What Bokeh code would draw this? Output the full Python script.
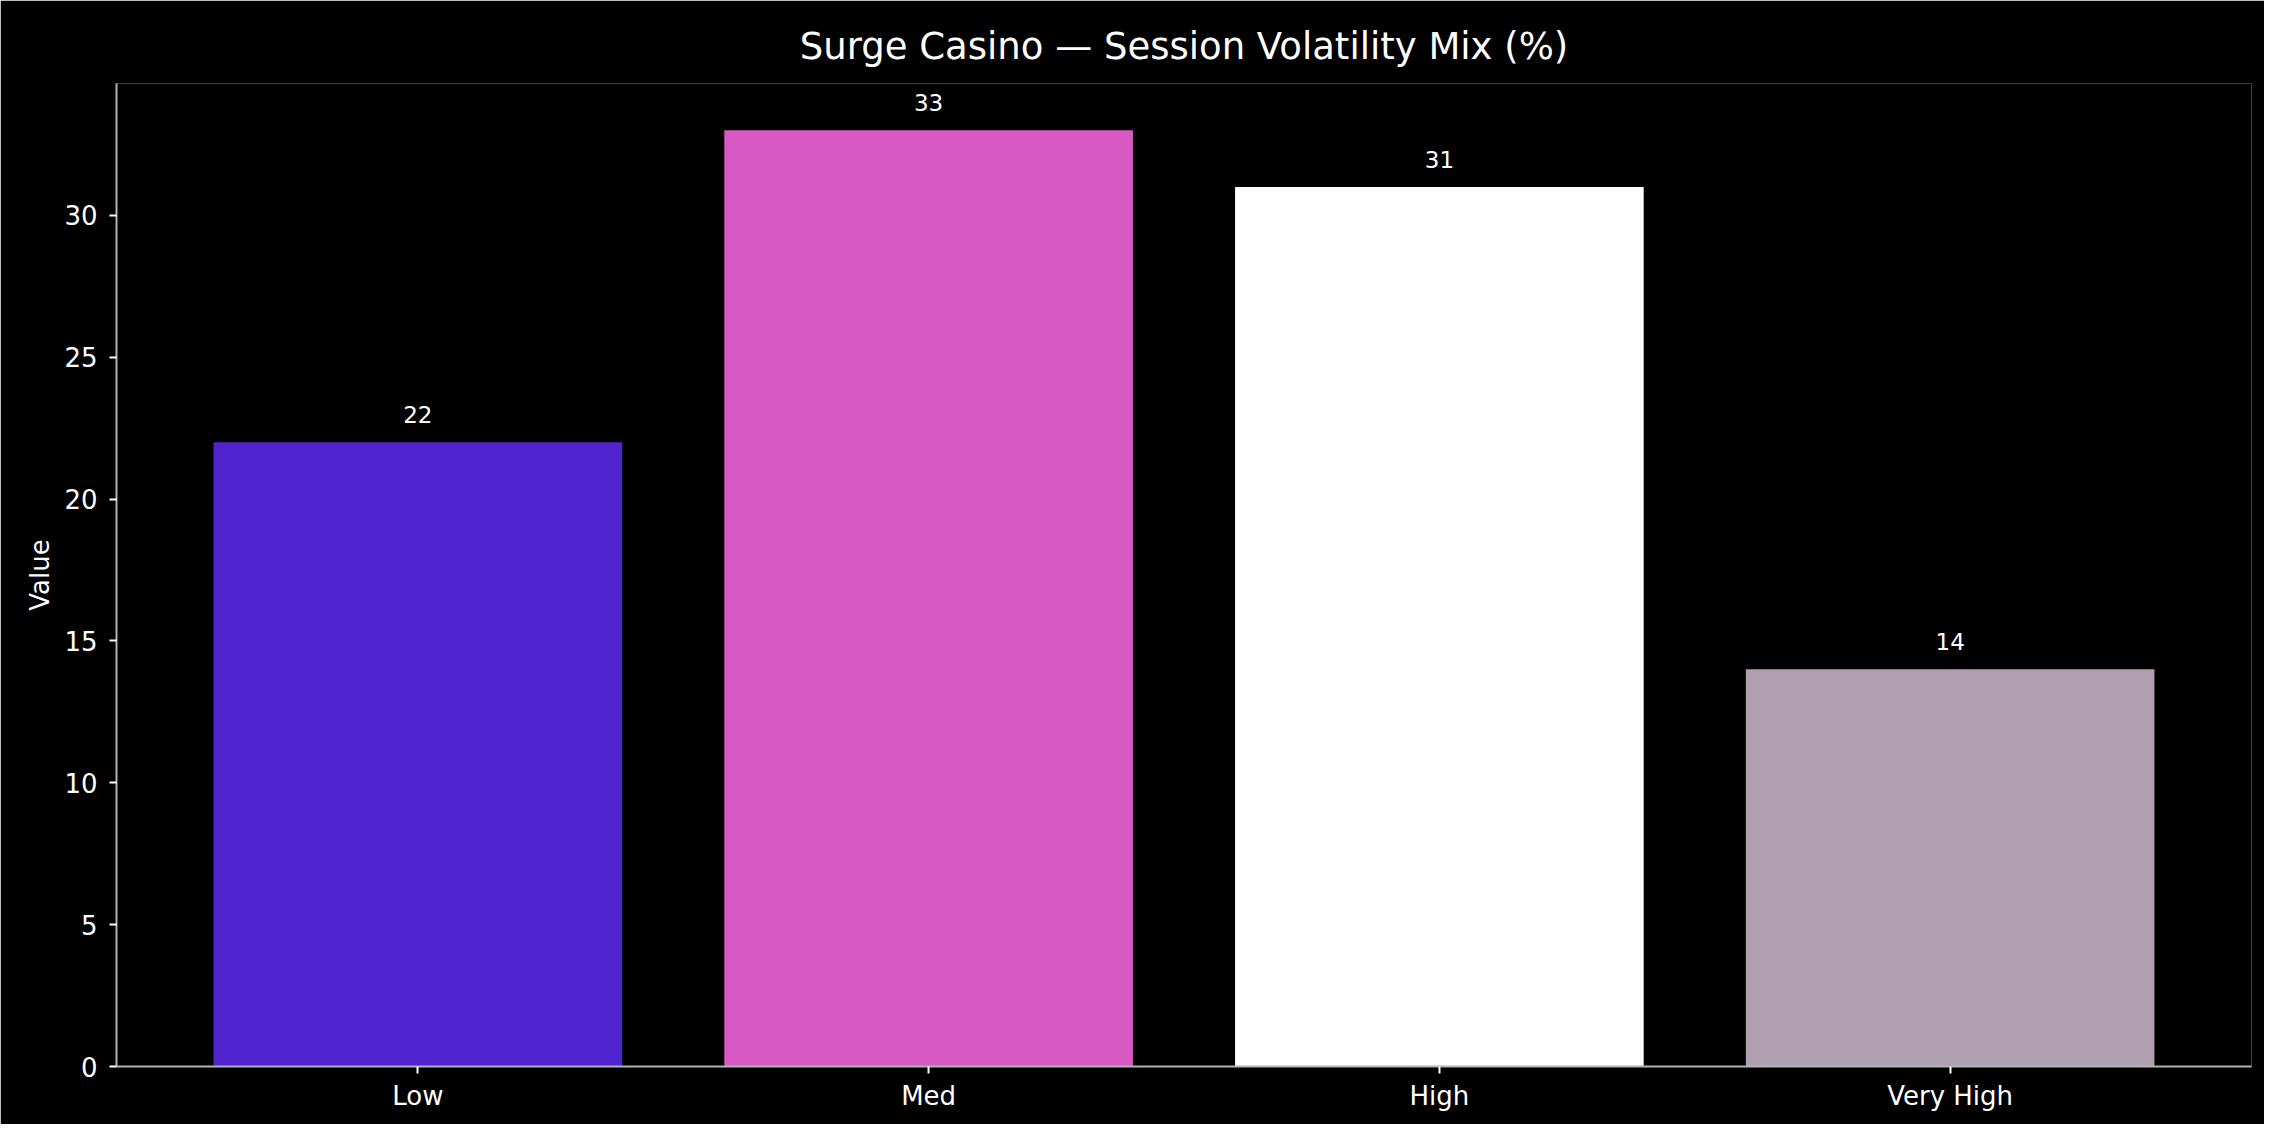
from bokeh.plotting import figure
from bokeh.models import ColumnDataSource, FactorRange, Range1d, Title
from bokeh.core.properties import value
from bokeh.embed import file_html
from bokeh.resources import INLINE

categories = ["Low", "Med", "High", "Very High"]
values = [22, 33, 31, 14]
colors = ["#4f23cd", "#d859c3", "#ffffff", "#b09fae"]
y_ticks = [0, 5, 10, 15, 20, 25, 30]

FONT = "DejaVu Sans"

src = ColumnDataSource(dict(cat=categories, val=values, color=colors,
                            label=[str(v) for v in values]))

p = figure(width=2264, height=1124, output_backend="svg", toolbar_location=None,
           x_range=FactorRange(*categories, range_padding=0.045, range_padding_units="percent"),
           y_range=Range1d(0, max(values) * 1.05),
           min_border_left=116, min_border_right=13, min_border_top=83, min_border_bottom=58)

p.background_fill_color = "black"
p.border_fill_color = "black"
p.outline_line_color = None
p.outline_line_alpha = 0
p.outline_line_width = 0
p.grid.visible = False

p.vbar(x="cat", top="val", width=0.8, color="color", line_color=None, source=src)
p.text(x="cat", y="val", text="label", source=src, text_align="center",
       text_baseline="middle", y_offset=-28, text_color="white",
       text_font=value(FONT), text_font_size="23px")

p.title = Title(text="Surge Casino \u2014 Session Volatility Mix (%)", align="center",
                text_color="white", text_font=FONT, text_font_size="37px",
                text_font_style="normal", standoff=32)

for ax in (p.xaxis[0], p.yaxis[0]):
    ax.axis_line_color = "#b3b3b3"
    ax.axis_line_width = 2
    ax.major_tick_line_color = "white"
    ax.major_tick_line_width = 2
    ax.major_tick_out = 7
    ax.major_tick_in = 0
    ax.minor_tick_line_color = None
    ax.major_label_text_color = "white"
    ax.major_label_text_font = FONT
    ax.major_label_text_font_size = "26px"

p.xaxis.major_label_standoff = 7
p.yaxis.major_label_standoff = 12
p.yaxis.ticker = y_ticks
p.yaxis.axis_label = "Value"
p.yaxis.axis_label_text_color = "white"
p.yaxis.axis_label_text_font = FONT
p.yaxis.axis_label_text_font_size = "26px"
p.yaxis.axis_label_text_font_style = "normal"
p.yaxis.axis_label_standoff = 6

html = file_html(p, INLINE)
html = html.replace("<body>", '<body style="background-color:black;">', 1)
open("out.html", "w").write(html)
